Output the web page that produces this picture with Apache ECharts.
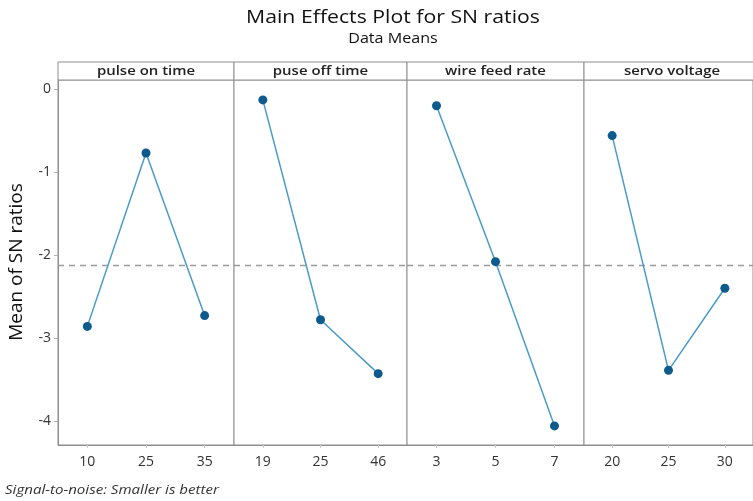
<!DOCTYPE html>
<html>
<head>
<meta charset="utf-8">
<script src="https://cdn.jsdelivr.net/npm/echarts@6/dist/echarts.min.js"></script>
<style>
  html, body { margin: 0; padding: 0; background: #fff; }
  #chart { width: 753px; height: 501px; }
</style>
</head>
<body>
<div id="chart"></div>
<script>
// Factors and their levels
const factorNames = ['pulse on time', 'puse off time', 'wire feed rate', 'servo voltage'];
const pulseOnLevels = ['10', '25', '35'];
const pulseOffLevels = ['19', '25', '46'];
const wireFeedLevels = ['3', '5', '7'];
const servoLevels = ['20', '25', '30'];

// Mean SN ratio at each level
const pulseOnMeans = [-2.86, -0.77, -2.73];
const pulseOffMeans = [-0.13, -2.78, -3.43];
const wireFeedMeans = [-0.20, -2.08, -4.06];
const servoMeans = [-0.56, -3.39, -2.40];

const yTicks = [0, -1, -2, -3, -4];

const levels = [pulseOnLevels, pulseOffLevels, wireFeedLevels, servoLevels];
const means = [pulseOnMeans, pulseOffMeans, wireFeedMeans, servoMeans];

// Overall mean (dashed reference line)
const all = means.flat();
const grandMean = all.reduce((a, b) => a + b, 0) / all.length;

// Panel layout
const panelLeft = [58, 234, 407, 584];
const panelWidth = [176, 173, 177, 176];
const panelTop = 80;
const panelBottom = 56;
const stripHeight = 18;
const yMin = -4.29, yMax = 0.11;

const axisGray = '#8e8e8e';
const font = '"Open Sans", "Noto Sans", sans-serif';

const grids = [], xAxes = [], yAxes = [], series = [], graphics = [];

factorNames.forEach((name, i) => {
  grids.push({
    left: panelLeft[i], top: panelTop, width: panelWidth[i], bottom: panelBottom,
    show: true, borderColor: axisGray, borderWidth: 1, backgroundColor: '#fff'
  });
  xAxes.push({
    type: 'category', gridIndex: i, data: levels[i], boundaryGap: true,
    axisLine: { onZero: false, lineStyle: { color: axisGray } },
    axisTick: { show: true, alignWithLabel: true, length: 3, lineStyle: { color: '#c8c8c8' } },
    axisLabel: { color: '#333', fontSize: 14, fontFamily: font, margin: 10 },
    splitLine: { show: false }
  });
  yAxes.push({
    type: 'value', gridIndex: i, min: yMin, max: yMax,
    axisLine: { show: i === 0, lineStyle: { color: axisGray } },
    axisTick: { show: i === 0, length: 4, customValues: yTicks, lineStyle: { color: '#b0b0b0' } },
    axisLabel: { show: i === 0, customValues: yTicks, color: '#333', fontSize: 14, fontFamily: font, margin: 7 },
    splitLine: { show: false }
  });
  series.push({
    type: 'line', xAxisIndex: i, yAxisIndex: i, data: means[i],
    symbol: 'circle', symbolSize: 9,
    lineStyle: { color: '#4a9bc9', width: 1.5 },
    itemStyle: { color: '#0d5b8c' },
    z: 3,
    markLine: {
      silent: true, symbol: ['none', 'none'], label: { show: false },
      lineStyle: { color: '#9a9a9a', type: [6, 5], width: 1.3 },
      data: [{ yAxis: grandMean }],
      z: 1
    }
  });
  // Strip header for each factor
  graphics.push({
    type: 'rect',
    shape: { x: panelLeft[i], y: panelTop - stripHeight, width: panelWidth[i], height: stripHeight },
    style: { fill: '#fff', stroke: axisGray, lineWidth: 1 }
  });
  graphics.push({
    type: 'text',
    x: panelLeft[i] + panelWidth[i] / 2, y: panelTop - stripHeight / 2,
    scaleX: 1.15,
    style: {
      text: name, align: 'center', verticalAlign: 'middle',
      fill: '#222', font: '600 13px ' + font
    }
  });
});

// Titles
graphics.push({
  type: 'text', x: 393, y: 18, scaleX: 1.18,
  style: {
    text: 'Main Effects Plot for SN ratios', align: 'center', verticalAlign: 'middle',
    fill: '#111', font: '18px ' + font
  }
});
graphics.push({
  type: 'text', x: 393, y: 39, scaleX: 1.15,
  style: {
    text: 'Data Means', align: 'center', verticalAlign: 'middle',
    fill: '#111', font: '14px ' + font
  }
});

// Axis title
graphics.push({
  type: 'text', x: 17, y: 262, rotation: Math.PI / 2,
  style: {
    text: 'Mean of SN ratios', align: 'center', verticalAlign: 'middle',
    fill: '#111', font: '19px ' + font
  }
});

// Footnote
graphics.push({
  type: 'text', x: 5, y: 490, scaleX: 1.16,
  style: {
    text: 'Signal-to-noise: Smaller is better', align: 'left', verticalAlign: 'middle',
    fill: '#333', font: 'italic 13px ' + font
  }
});

const chart = echarts.init(document.getElementById('chart'), null, { renderer: 'canvas' });
chart.setOption({
  animation: false,
  backgroundColor: '#fff',
  grid: grids,
  xAxis: xAxes,
  yAxis: yAxes,
  series: series,
  graphic: graphics
});
</script>
</body>
</html>
